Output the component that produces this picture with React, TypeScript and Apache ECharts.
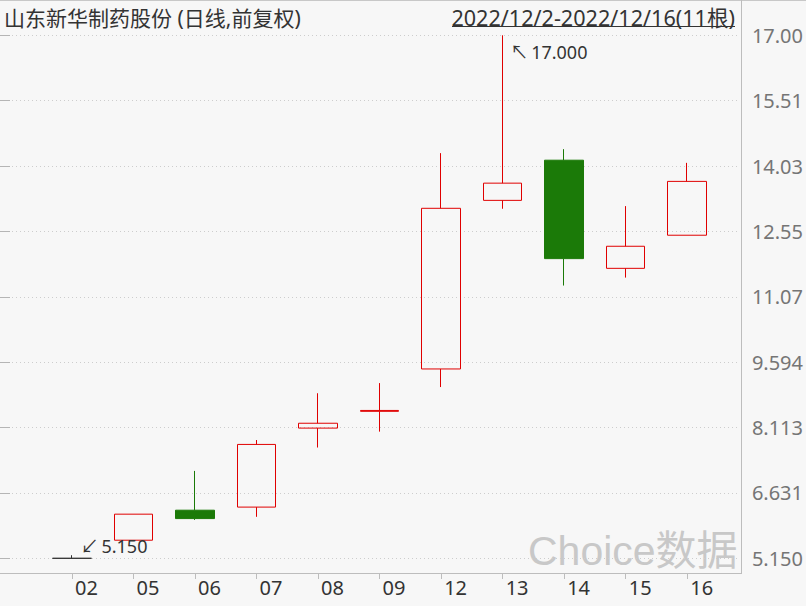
import React, { useEffect, useRef } from "react";
import * as echarts from "echarts";

const dates = ["02", "05", "06", "07", "08", "09", "12", "13", "14", "15", "16"];
const openPrices = [5.15, 5.56, 6.24, 6.31, 8.1, 8.48, 9.44, 13.26, 14.17, 11.72, 12.47];
const closePrices = [5.15, 6.15, 6.05, 7.73, 8.21, 8.5, 13.08, 13.65, 11.94, 12.22, 13.69];
const lowPrices = [5.15, 5.56, 6.02, 6.09, 7.66, 8.02, 9.03, 13.07, 11.33, 11.51, 12.47];
const highPrices = [5.22, 6.15, 7.13, 7.83, 8.89, 9.12, 14.33, 17.0, 14.42, 13.13, 14.11];
const yTickLabels = ["5.150", "6.631", "8.113", "9.594", "11.07", "12.55", "14.03", "15.51", "17.00"];
const yMin = 5.15;
const yMax = 17.0;
const titleText = "山东新华制药股份 (日线,前复权)";
const rangeText = "2022/12/2-2022/12/16(11根)";
const watermarkText = "Choice数据";

const FONT = "'Noto Sans', 'Noto Sans CJK SC', sans-serif";
const UP = "#e00000";
const DOWN = "#1b7a08";

export default function App() {
  const ref = useRef<HTMLDivElement>(null);
  useEffect(() => {
    if (!ref.current) return;
    const chart = echarts.init(ref.current, undefined, { renderer: "svg" });
    const interval = (yMax - yMin) / (yTickLabels.length - 1);
    const candleData = dates.map((_, i) => [openPrices[i], closePrices[i], lowPrices[i], highPrices[i]]);
    const gridTop = 35.3;
    const gridHeight = 523;
    chart.setOption({
      animation: false,
      backgroundColor: "#f7f7f7",
      textStyle: { fontFamily: FONT },
      grid: [
        { left: 0, top: gridTop, width: 741, height: gridHeight },
        { left: 41.2, top: gridTop, width: 676.8, height: gridHeight },
      ],
      xAxis: [
        { gridIndex: 0, type: "value", show: false, min: 0, max: 1 },
        {
          gridIndex: 1,
          type: "category",
          data: dates,
          boundaryGap: true,
          offset: 14.7,
          axisLine: { show: false },
          axisTick: { show: true, alignWithLabel: true, length: 6, lineStyle: { color: "#bdbdbd" } },
          axisLabel: {
            color: "#333",
            fontSize: 20,
            fontFamily: FONT,
            align: "left",
            padding: [0, 0, 0, 3],
            margin: 4,
          },
          splitLine: { show: false },
        },
      ],
      yAxis: [
        {
          gridIndex: 0,
          type: "value",
          position: "right",
          min: yMin,
          max: yMax,
          interval,
          axisLine: { show: false },
          axisTick: { show: true, length: 10, lineStyle: { color: "#b5b5b5" } },
          axisLabel: {
            color: "#757575",
            fontSize: 20,
            fontFamily: FONT,
            margin: 13,
            formatter: (v: number) => yTickLabels[Math.round((v - yMin) / interval)] ?? "",
          },
          splitLine: { show: true, lineStyle: { color: "#cdcdcd", type: [1, 3], width: 1 } },
        },
        { gridIndex: 1, type: "value", min: yMin, max: yMax, show: false },
      ],
      series: [
        {
          type: "candlestick",
          xAxisIndex: 1,
          yAxisIndex: 1,
          data: candleData,
          barWidth: 39,
          itemStyle: {
            color: "rgba(0,0,0,0)",
            color0: DOWN,
            borderColor: UP,
            borderColor0: DOWN,
            borderColorDoji: "#333",
            borderWidth: 1,
          },
          markPoint: {
            symbol: "circle",
            symbolSize: 1,
            itemStyle: { color: "rgba(0,0,0,0)" },
            label: { show: true, color: "#333", fontSize: 18, fontFamily: FONT },
            data: [
              {
                type: "max",
                valueDim: "highest",
                label: {
                  position: "right",
                  offset: [2, 17],
                  formatter: (p: any) => "↖\u2009" + Number(p.value).toFixed(3),
                },
              },
              {
                type: "min",
                valueDim: "lowest",
                label: {
                  position: "right",
                  offset: [3, -12],
                  formatter: (p: any) => "↙\u2009" + Number(p.value).toFixed(3),
                },
              },
            ],
          },
        },
      ],
      graphic: [
        {
          type: "line",
          silent: true,
          shape: { x1: 0, y1: 0.5, x2: 806, y2: 0.5 },
          style: { stroke: "#c8c8c8", lineWidth: 1 },
        },
        {
          type: "line",
          silent: true,
          shape: { x1: 741.5, y1: 0, x2: 741.5, y2: 574 },
          style: { stroke: "#bdbdbd", lineWidth: 1 },
        },
        {
          type: "line",
          silent: true,
          shape: { x1: 0, y1: 573.5, x2: 742, y2: 573.5 },
          style: { stroke: "#bdbdbd", lineWidth: 1 },
        },
        {
          type: "text",
          x: 4,
          y: 17.5,
          style: { text: titleText, fontSize: 21, fontFamily: FONT, fill: "#333", align: "left", verticalAlign: "middle" },
        },
        {
          type: "text",
          x: 735,
          y: 17,
          style: { text: rangeText, fontSize: 21.6, fontFamily: FONT, fill: "#333", align: "right", verticalAlign: "middle" },
        },
        {
          type: "line",
          silent: true,
          shape: { x1: 452, y1: 26.5, x2: 735, y2: 26.5 },
          style: { stroke: "#333", lineWidth: 1 },
        },
        {
          type: "text",
          x: 528,
          y: 551,
          silent: true,
          style: {
            text: watermarkText,
            fontSize: 41,
            fontFamily: "'Liberation Sans', 'Noto Sans CJK SC', sans-serif",
            fill: "#c8c8c8",
            align: "left",
            verticalAlign: "middle",
          },
        },
      ],
    });
    return () => chart.dispose();
  }, []);
  return <div ref={ref} style={{ position: "absolute", left: 0, top: 0, width: 806, height: 606 }} />;
}
